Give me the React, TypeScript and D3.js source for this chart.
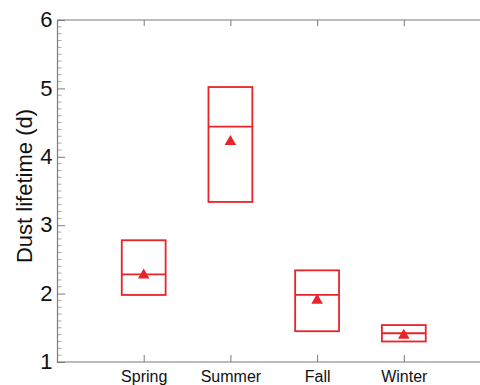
import React, { useEffect, useRef } from "react";
import { axisBottom, axisLeft, axisTop, range, scaleLinear, select, symbol, symbolTriangle } from "d3";

const seasons = ["Spring", "Summer", "Fall", "Winter"];
const q75 = [2.78, 5.02, 2.34, 1.54];
const median = [2.28, 4.44, 1.98, 1.42];
const q25 = [1.98, 3.34, 1.45, 1.3];
const mean = [2.27, 4.22, 1.9, 1.39];
const yTicks = [1, 2, 3, 4, 5, 6];

const RED = "#e8242a";
const AXIS = "#7a7a7a";

const App = () => {
  const svgRef = useRef<SVGSVGElement>(null);

  useEffect(() => {
    const svg = select(svgRef.current);
    svg.selectAll("*").remove();

    const x = scaleLinear().domain([0, 5]).range([57, 490.5]);
    const y = scaleLinear().domain([1, 6]).range([362, 20]);
    const font = "'Liberation Sans', Arial, Helvetica, sans-serif";

    // minor y ticks
    const minor = range(1, 6.001, 0.1).filter(v => Math.abs(v - Math.round(v)) > 0.01);
    svg.append("g")
      .selectAll("line")
      .data(minor)
      .join("line")
      .attr("x1", 57)
      .attr("x2", 61.5)
      .attr("y1", d => y(d))
      .attr("y2", d => y(d))
      .attr("stroke", "#aaa")
      .attr("stroke-width", 1);

    const yAxis = svg.append("g")
      .attr("transform", "translate(57,0)")
      .call(axisLeft(y).tickValues(yTicks).tickSize(-8).tickPadding(4.5).tickFormat(d => String(d)));
    yAxis.select(".domain").attr("stroke", AXIS).attr("stroke-width", 1.2);
    yAxis.selectAll(".tick line").attr("stroke", AXIS);
    yAxis.selectAll(".tick text")
      .attr("font-family", font)
      .attr("font-size", 22)
      .attr("fill", "#111")
      .attr("dy", "0.3em");

    const xAxis = svg.append("g")
      .attr("transform", "translate(0,362)")
      .call(axisBottom(x).tickValues([1, 2, 3, 4]).tickSize(-7).tickPadding(9)
        .tickFormat((d, i) => seasons[i]));
    xAxis.select(".domain").attr("d", "M57,0H480").attr("stroke", AXIS).attr("stroke-width", 1.2);
    xAxis.selectAll(".tick line").attr("stroke", AXIS);
    xAxis.selectAll(".tick text")
      .attr("font-family", font)
      .attr("font-size", 16)
      .attr("fill", "#111")
      .attr("dy", "0.71em");

    const topAxis = svg.append("g")
      .attr("transform", "translate(0,20)")
      .call(axisTop(x).tickValues([1, 2, 3, 4]).tickSize(-6).tickFormat(() => ""));
    topAxis.select(".domain").attr("d", "M57,0H480").attr("stroke", AXIS).attr("stroke-width", 1.2);
    topAxis.selectAll(".tick line").attr("stroke", AXIS);

    svg.append("text")
      .attr("transform", "translate(32,186) rotate(-90)")
      .attr("text-anchor", "middle")
      .attr("font-family", font)
      .attr("font-size", 22)
      .attr("fill", "#111")
      .text("Dust lifetime (d)");

    const half = 0.253;
    const boxes = svg.append("g")
      .selectAll("g")
      .data(seasons)
      .join("g");

    boxes.append("rect")
      .attr("x", (d, i) => x(i + 1 - half))
      .attr("width", (d, i) => x(i + 1 + half) - x(i + 1 - half))
      .attr("y", (d, i) => y(q75[i]))
      .attr("height", (d, i) => y(q25[i]) - y(q75[i]))
      .attr("fill", "none")
      .attr("stroke", RED)
      .attr("stroke-width", 1.8);

    boxes.append("line")
      .attr("x1", (d, i) => x(i + 1 - half))
      .attr("x2", (d, i) => x(i + 1 + half))
      .attr("y1", (d, i) => y(median[i]))
      .attr("y2", (d, i) => y(median[i]))
      .attr("stroke", RED)
      .attr("stroke-width", 1.8);

    boxes.append("path")
      .attr("d", symbol(symbolTriangle, 58)())
      .attr("transform", (d, i) => `translate(${x(i + 1)},${y(mean[i])})`)
      .attr("fill", RED);
  }, []);

  return (
    <svg
      ref={svgRef}
      width={480}
      height={385}
      style={{ position: "absolute", left: 0, top: 0 }}
    />
  );
};

export default App;
